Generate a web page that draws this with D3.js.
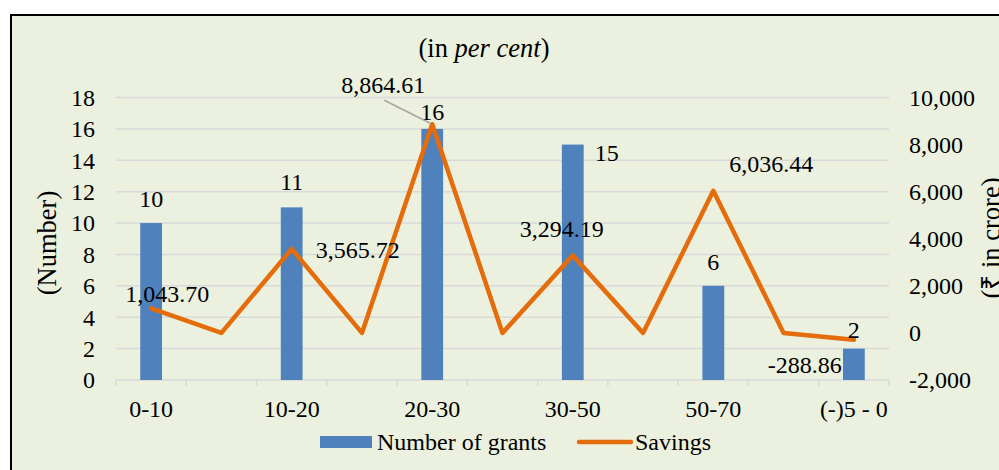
<!DOCTYPE html>
<html>
<head>
<meta charset="utf-8">
<script src="https://cdn.jsdelivr.net/npm/d3@7"></script>
<style>
  html, body { margin: 0; padding: 0; background: #ffffff; }
  svg { display: block; font-family: "Liberation Serif", "Times New Roman", serif; }
</style>
</head>
<body>
<svg id="chart" width="999" height="470"></svg>
<script>
// Categories (alternate slots are the blank gaps between groups)
const categories = ["0-10", "g1", "10-20", "g2", "20-30", "g3", "30-50", "g4", "50-70", "g5", "(-)5 - 0"]
const categoryLabels = ["0-10", "", "10-20", "", "20-30", "", "30-50", "", "50-70", "", "(-)5 - 0"]

// Series values
const grants = [10, null, 11, null, 16, null, 15, null, 6, null, 2]
const savings = [1043.70, 0, 3565.72, 0, 8864.61, 0, 3294.19, 0, 6036.44, 0, -288.86]
const savingsLabels = ["1,043.70", null, "3,565.72", null, "8,864.61", null, "3,294.19", null, "6,036.44", null, "-288.86"]

// Axis ticks
const leftTicks = [0, 2, 4, 6, 8, 10, 12, 14, 16, 18]
const rightTicks = [-2000, 0, 2000, 4000, 6000, 8000, 10000]

// Label nudges (dx, dy) relative to the mark they belong to
const grantLabelNudge = [[0, -16], null, [0, -17], null, [0, -9], null, [22, 16, "start"], null, [0, -16], null, [0, -11]]
const savingsLabelNudge = [[16, -6], null, [66, 9], null, [-49, -31], null, [-11, -18], null, [58, -19], null, [-49, 33]]

const svg = d3.select("#chart")
const width = 999, height = 470
const plot = { left: 116, right: 889, top: 97.5, bottom: 380 }

const BG = "#EBF1DE"
const GRID = "#D9D9D9"
const BLUE = "#4F81BD"
const ORANGE = "#E46C0A"
const TEXT = "#000000"

// Outer frame
svg.append("rect").attr("width", width).attr("height", height).attr("fill", "#ffffff")
svg.append("rect")
  .attr("x", 11).attr("y", 15)
  .attr("width", width + 20).attr("height", height + 20)
  .attr("fill", BG)
  .attr("stroke", "#000").attr("stroke-width", 2)

const x = d3.scaleBand()
  .domain(categories)
  .range([plot.left, plot.right])
  .paddingInner(0).paddingOuter(0)

const yLeft = d3.scaleLinear().domain([0, 18]).range([plot.bottom, plot.top])
const yRight = d3.scaleLinear().domain([-2000, 10000]).range([plot.bottom, plot.top])

const barWidth = x.bandwidth() * 0.31
const cx = d => x(d) + x.bandwidth() / 2

// Gridlines
svg.append("g")
  .selectAll("line")
  .data(leftTicks)
  .join("line")
  .attr("x1", plot.left).attr("x2", plot.right)
  .attr("y1", d => yLeft(d)).attr("y2", d => yLeft(d))
  .attr("stroke", GRID).attr("stroke-width", 1.5)

// Category axis tick marks at band boundaries
const boundaries = categories.map(c => x(c)).concat([plot.right])
svg.append("g")
  .selectAll("line")
  .data(boundaries)
  .join("line")
  .attr("x1", d => d).attr("x2", d => d)
  .attr("y1", plot.bottom).attr("y2", plot.bottom + 6)
  .attr("stroke", GRID).attr("stroke-width", 1.5)

// Left axis labels
svg.append("g")
  .selectAll("text")
  .data(leftTicks)
  .join("text")
  .attr("x", 95).attr("y", d => yLeft(d))
  .attr("dy", "0.35em")
  .attr("text-anchor", "end")
  .attr("font-size", 24)
  .attr("fill", TEXT)
  .text(d => d)

// Right axis labels (plain hyphen for negatives, as in the source)
const fmt = d => d3.format(",")(d).replace("\u2212", "-")
svg.append("g")
  .selectAll("text")
  .data(rightTicks)
  .join("text")
  .attr("x", 909).attr("y", d => yRight(d))
  .attr("dy", "0.35em")
  .attr("text-anchor", "start")
  .attr("font-size", 24)
  .attr("fill", TEXT)
  .text(d => fmt(d))

// Category labels
svg.append("g")
  .selectAll("text")
  .data(categories)
  .join("text")
  .attr("x", d => cx(d)).attr("y", 417)
  .attr("text-anchor", "middle")
  .attr("font-size", 24)
  .attr("fill", TEXT)
  .text((d, i) => categoryLabels[i])

// Bars
const barData = categories.map((c, i) => ({ c, v: grants[i], i })).filter(d => d.v != null)
svg.append("g")
  .selectAll("rect")
  .data(barData)
  .join("rect")
  .attr("x", d => cx(d.c) - barWidth / 2)
  .attr("width", barWidth)
  .attr("y", d => yLeft(d.v))
  .attr("height", d => yLeft(0) - yLeft(d.v))
  .attr("fill", BLUE)

// Savings line
const lineData = categories.map((c, i) => ({ c, v: savings[i], i }))
const line = d3.line().x(d => cx(d.c)).y(d => yRight(d.v))
svg.append("path")
  .datum(lineData)
  .attr("d", line)
  .attr("fill", "none")
  .attr("stroke", ORANGE)
  .attr("stroke-width", 4.5)
  .attr("stroke-linejoin", "round")
  .attr("stroke-linecap", "round")

// Bar labels
svg.append("g")
  .selectAll("text")
  .data(barData)
  .join("text")
  .attr("x", d => cx(d.c) + grantLabelNudge[d.i][0])
  .attr("y", d => yLeft(d.v) + grantLabelNudge[d.i][1])
  .attr("text-anchor", d => grantLabelNudge[d.i][2] || "middle")
  .attr("font-size", 24)
  .attr("fill", TEXT)
  .text(d => d.v)

// Leader line for the peak savings label
const peak = lineData[4]
svg.append("line")
  .attr("x1", cx(peak.c) - 48).attr("y1", yRight(peak.v) - 24)
  .attr("x2", cx(peak.c) - 2).attr("y2", yRight(peak.v) - 1)
  .attr("stroke", "#A6A6A6").attr("stroke-width", 1.5)

// Savings labels
svg.append("g")
  .selectAll("text")
  .data(lineData.filter(d => savingsLabels[d.i] != null))
  .join("text")
  .attr("x", d => cx(d.c) + savingsLabelNudge[d.i][0])
  .attr("y", d => yRight(d.v) + savingsLabelNudge[d.i][1])
  .attr("text-anchor", "middle")
  .attr("font-size", 24)
  .attr("fill", TEXT)
  .text(d => savingsLabels[d.i])

// Title
const title = svg.append("text")
  .attr("x", 484).attr("y", 57)
  .attr("text-anchor", "middle")
  .attr("font-size", 26.5)
  .attr("fill", TEXT)
title.append("tspan").text("(in ")
title.append("tspan").attr("font-style", "italic").text("per cent")
title.append("tspan").text(")")

// Axis titles
svg.append("text")
  .attr("transform", "translate(56, 243) rotate(-90)")
  .attr("text-anchor", "middle")
  .attr("font-size", 26.5)
  .attr("fill", TEXT)
  .text("(Number)")

svg.append("text")
  .attr("transform", "translate(1000, 238) rotate(-90)")
  .attr("text-anchor", "middle")
  .attr("font-size", 26.5)
  .attr("fill", TEXT)
  .text("(₹ in crore)")

// Legend
const legend = svg.append("g").attr("transform", "translate(320, 442)")
legend.append("rect")
  .attr("x", 0).attr("y", -6).attr("width", 52).attr("height", 12)
  .attr("fill", BLUE)
legend.append("text")
  .attr("x", 57).attr("y", 8)
  .attr("font-size", 24).attr("fill", TEXT)
  .text("Number of grants")
legend.append("line")
  .attr("x1", 259).attr("x2", 311).attr("y1", 0).attr("y2", 0)
  .attr("stroke", ORANGE).attr("stroke-width", 4.5).attr("stroke-linecap", "round")
legend.append("text")
  .attr("x", 315).attr("y", 8)
  .attr("font-size", 24).attr("fill", TEXT)
  .text("Savings")
</script>
</body>
</html>
